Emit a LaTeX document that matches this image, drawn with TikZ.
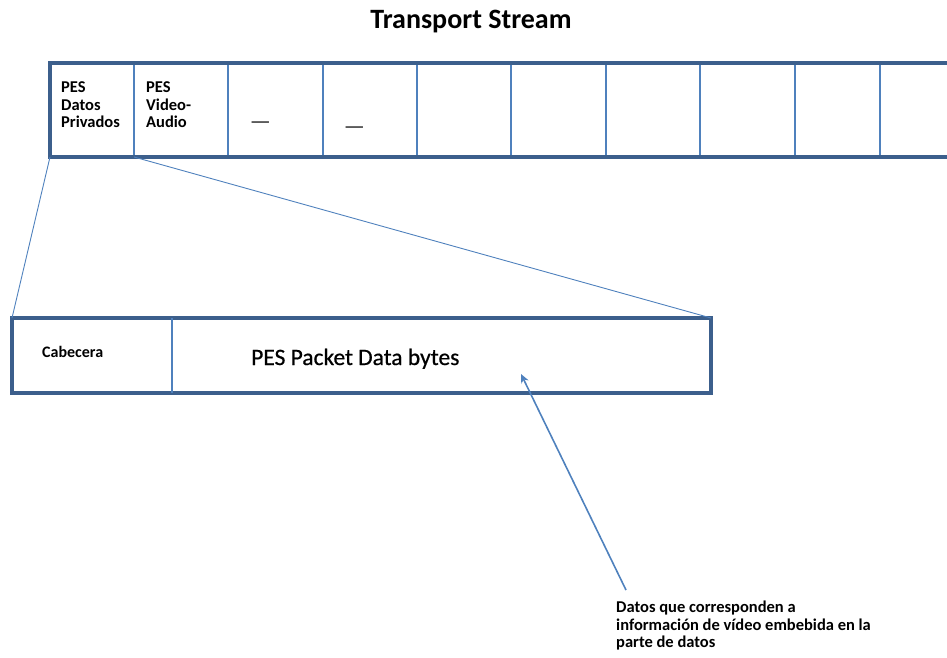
\documentclass[tikz,border=0pt]{standalone}
\usepackage{fontspec}
\setmainfont{Carlito}
\newfontfamily\heavyfont[FakeBold=0.6]{Carlito}
\usetikzlibrary{arrows.meta}
\definecolor{dkblue}{HTML}{3C5F8C}
\definecolor{ltblue}{HTML}{4F81BD}
\tikzset{
  frame/.style={draw=dkblue,line width=3.2pt},
  divider/.style={draw=ltblue,line width=1.6pt},
  conn/.style={draw=ltblue,line width=0.9pt},
  celltext/.style={font=\bfseries\fontsize{16.5}{17.5}\selectfont,align=left,anchor=north west,inner sep=0pt},
  notetext/.style={font=\bfseries\fontsize{16.5}{17.5}\selectfont,align=left,anchor=north west,inner sep=0pt},
  dashtext/.style={font=\bfseries\fontsize{14}{15}\selectfont,inner sep=0pt},
}
\begin{document}
\begin{tikzpicture}[x=1pt,y=-1pt]
\useasboundingbox (0,0) rectangle (947,657);
\begin{scope}
\clip (0,0) rectangle (947,657);
% Transport stream strip
\foreach \xx in {134,228,323,417,511,606,700,795,880}{
  \draw[divider] (\xx,63) -- (\xx,157);
}
\draw[frame] (990,63) -- (50,63) -- (50,157) -- (990,157);
\end{scope}
\coordinate (sBL) at (50,157);
\coordinate (sD1) at (134,157);

\node[font=\bfseries\fontsize{28}{32}\selectfont,anchor=base,inner sep=0pt] (title) at (471,28) {Transport Stream};

\node[celltext] (c1) at (61,81.5) {PES\\Datos\\Privados};
\node[celltext] (c2) at (146,81.5) {PES\\Video-\\Audio};
\node[dashtext] (c3) at (260.5,124) {\scalebox{1.7}[1]{—}};
\node[dashtext] (c4) at (354.5,129) {\scalebox{1.7}[1]{—}};

% PES packet box
\draw[frame] (12,318) rectangle (711,393);
\draw[divider] (172,318) -- (172,393);
\coordinate (pTL) at (12,318);
\coordinate (pTR) at (711,318);
\node[celltext,font=\bfseries\fontsize{16}{17.5}\selectfont] (cab) at (42,346) {Cabecera};
\node[font=\heavyfont\fontsize{23.5}{26}\selectfont,anchor=base west,inner sep=0pt] (data) at (251,365) {PES Packet Data bytes};

% zoom connectors
\draw[conn] (sBL) -- (pTL);
\draw[conn] (sD1) -- (pTR);

% annotation
\node[notetext] (note) at (616,601) {Datos que corresponden a\\información de vídeo embebida en la\\parte de datos};
\coordinate (arrowS) at (626,590);
\coordinate (arrowE) at (521,374);
\draw[conn,line width=1.6pt,-{Stealth[length=9pt,width=8pt]}] (arrowS) -- (arrowE);
\end{tikzpicture}
\end{document}
